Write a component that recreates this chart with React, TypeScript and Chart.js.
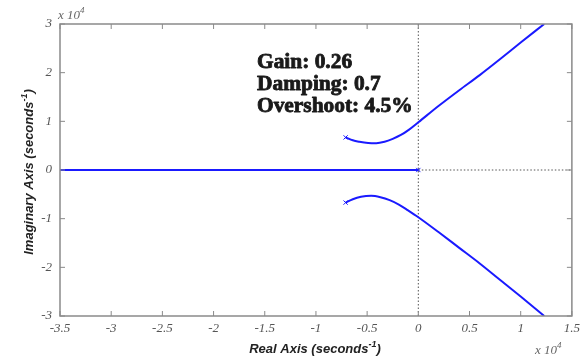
import React, { useEffect, useRef } from "react";
import { Chart, registerables } from "chart.js";

Chart.register(...registerables);

// Values in units of x 10^4
const upperX = [-0.71, -0.64, -0.575, -0.49, -0.41, -0.33, -0.25, -0.17, -0.09, 0, 0.2, 0.4, 0.6, 0.8, 1.0, 1.23];
const upperY = [0.67, 0.61, 0.58, 0.555, 0.55, 0.58, 0.64, 0.72, 0.83, 0.98, 1.32, 1.64, 1.95, 2.28, 2.62, 3.0];
const lowerX = [-0.71, -0.64, -0.56, -0.46, -0.37, -0.28, -0.19, -0.1, 0, 0.2, 0.4, 0.6, 0.8, 1.0, 1.23];
const lowerY = [-0.67, -0.6, -0.55, -0.53, -0.56, -0.62, -0.71, -0.83, -0.97, -1.28, -1.6, -1.92, -2.26, -2.6, -3.0];
const realAxisX = [-3.5, 0];
const realAxisY = [0, 0];
const polesX = [-0.71, -0.71, 0];
const polesY = [0.67, -0.67, 0];
const xTicks = [-3.5, -3, -2.5, -2, -1.5, -1, -0.5, 0, 0.5, 1, 1.5];
const yTicks = [-3, -2, -1, 0, 1, 2, 3];
const annotationLines = ["Gain: 0.26", "Damping: 0.7", "Overshoot: 4.5%"];

const BLUE = "#1a1aff";

const pts = (xs: number[], ys: number[]) => xs.map((x, i) => ({ x, y: ys[i] }));

function drawSup(ctx: CanvasRenderingContext2D, base: string, sup: string, tail: string, x: number, y: number, font: string, supFont: string, align: "center" | "left") {
  ctx.font = font;
  const wb = ctx.measureText(base).width;
  const wt = ctx.measureText(tail).width;
  ctx.font = supFont;
  const ws = ctx.measureText(sup).width;
  const total = wb + ws + wt;
  const sx = align === "center" ? x - total / 2 : x;
  ctx.textAlign = "left";
  ctx.textBaseline = "alphabetic";
  ctx.font = font;
  ctx.fillText(base, sx, y);
  ctx.font = supFont;
  ctx.fillText(sup, sx + wb, y - 6);
  ctx.font = font;
  ctx.fillText(tail, sx + wb + ws, y);
}

const overlay = {
  id: "overlay",
  beforeDatasetsDraw(chart: any) {
    const { ctx, chartArea, scales } = chart;
    const x0 = scales.x.getPixelForValue(0);
    const y0 = scales.y.getPixelForValue(0);
    ctx.save();
    ctx.strokeStyle = "#555";
    ctx.lineWidth = 1;
    ctx.setLineDash([1.5, 2]);
    ctx.beginPath();
    ctx.moveTo(x0, chartArea.top);
    ctx.lineTo(x0, chartArea.bottom);
    ctx.moveTo(x0, y0);
    ctx.lineTo(chartArea.right, y0);
    ctx.stroke();
    ctx.restore();
  },
  afterDraw(chart: any) {
    const { ctx, chartArea, scales } = chart;
    const { left, right, top, bottom } = chartArea;
    ctx.save();
    ctx.strokeStyle = "#8a8a8a";
    ctx.lineWidth = 1.5;
    ctx.strokeRect(left, top, right - left, bottom - top);
    ctx.lineWidth = 1;
    ctx.beginPath();
    xTicks.forEach((v) => {
      const px = scales.x.getPixelForValue(v);
      ctx.moveTo(px, top);
      ctx.lineTo(px, top + 5);
      ctx.moveTo(px, bottom);
      ctx.lineTo(px, bottom - 5);
    });
    yTicks.forEach((v) => {
      const py = scales.y.getPixelForValue(v);
      ctx.moveTo(left, py);
      ctx.lineTo(left + 5, py);
      ctx.moveTo(right, py);
      ctx.lineTo(right - 5, py);
    });
    ctx.stroke();

    // annotation (stroke added to reinforce the bold weight)
    ctx.fillStyle = "#1a1a1a";
    ctx.strokeStyle = "#1a1a1a";
    ctx.lineWidth = 0.8;
    ctx.lineJoin = "round";
    ctx.font = "bold 20px 'Liberation Serif', 'Times New Roman', serif";
    ctx.textAlign = "left";
    ctx.textBaseline = "alphabetic";
    annotationLines.forEach((t, i) => {
      ctx.save();
      ctx.translate(257, 68 + i * 22);
      ctx.scale(1.07, 1);
      ctx.fillText(t, 0, 0);
      ctx.strokeText(t, 0, 0);
      ctx.restore();
    });

    // axis titles
    ctx.fillStyle = "#222";
    const tf = "italic bold 13px 'Liberation Sans'";
    const sf = "italic bold 9px 'Liberation Sans'";
    drawSup(ctx, "Real Axis (seconds", "-1", ")", 315, 353, tf, sf, "center");
    ctx.save();
    ctx.translate(33, 172);
    ctx.rotate(-Math.PI / 2);
    drawSup(ctx, "Imaginary Axis (seconds", "-1", ")", 0, 0, tf, sf, "center");
    ctx.restore();

    // exponent labels
    ctx.fillStyle = "#666";
    drawSup(ctx, "x 10", "4", "", 58, 19, "italic 13px 'Liberation Serif'", "italic 9px 'Liberation Serif'", "left");
    drawSup(ctx, "x 10", "4", "", 535, 354, "italic 13px 'Liberation Serif'", "italic 9px 'Liberation Serif'", "left");
    ctx.restore();
  },
};

export default function App() {
  const ref = useRef<HTMLCanvasElement | null>(null);
  useEffect(() => {
    let chart: any = null;
    let cancelled = false;
    const build = () => {
      if (cancelled || !ref.current) return;
      const lineStyle = {
        showLine: true,
        borderColor: BLUE,
        borderWidth: 2,
        pointRadius: 0,
        fill: false,
        cubicInterpolationMode: "monotone" as const,
      };
      const fmt = (v: any) => String(v);
      chart = new Chart(ref.current, {
        type: "scatter",
        data: {
          datasets: [
            { ...lineStyle, data: pts(realAxisX, realAxisY) },
            { ...lineStyle, data: pts(upperX, upperY) },
            { ...lineStyle, data: pts(lowerX, lowerY) },
            {
              data: pts(polesX, polesY),
              showLine: false,
              pointStyle: "crossRot",
              pointRadius: 3,
              borderColor: BLUE,
              borderWidth: 1,
              backgroundColor: BLUE,
            },
          ],
        },
        plugins: [overlay],
        options: {
          animation: false,
          responsive: false,
          devicePixelRatio: 1,
          layout: { padding: { left: 0, right: 12, top: 24, bottom: 0 } },
          plugins: { legend: { display: false }, tooltip: { enabled: false } },
          scales: {
            x: {
              type: "linear",
              min: -3.5,
              max: 1.5,
              afterFit: (s: any) => {
                s.height = 44;
              },
              afterBuildTicks: (s: any) => {
                s.ticks = xTicks.map((v) => ({ value: v }));
              },
              grid: { display: false, drawTicks: false },
              border: { display: false },
              ticks: {
                padding: 5,
                color: "#555",
                font: { family: "'Liberation Serif'", style: "italic", size: 13 },
                maxRotation: 0,
                autoSkip: false,
                callback: fmt,
              },
            },
            y: {
              type: "linear",
              min: -3,
              max: 3,
              afterFit: (s: any) => {
                s.width = 60;
              },
              afterBuildTicks: (s: any) => {
                s.ticks = yTicks.map((v) => ({ value: v }));
              },
              grid: { display: false, drawTicks: false },
              border: { display: false },
              ticks: {
                padding: 8,
                color: "#555",
                font: { family: "'Liberation Serif'", style: "italic", size: 13 },
                autoSkip: false,
                callback: fmt,
              },
            },
          },
        },
      });
    };
    const fonts: any = (document as any).fonts;
    if (fonts && fonts.load) {
      Promise.all([
        fonts.load("bold 20px 'Liberation Serif'"),
        fonts.load("italic 13px 'Liberation Serif'"),
        fonts.load("italic bold 13px 'Liberation Sans'"),
      ])
        .catch(() => null)
        .then(build);
    } else {
      build();
    }
    return () => {
      cancelled = true;
      if (chart) chart.destroy();
    };
  }, []);
  return (
    <div style={{ position: "absolute", left: 0, top: 0, width: 585, height: 360, background: "#fff" }}>
      <canvas ref={ref} width={585} height={360} />
    </div>
  );
}
